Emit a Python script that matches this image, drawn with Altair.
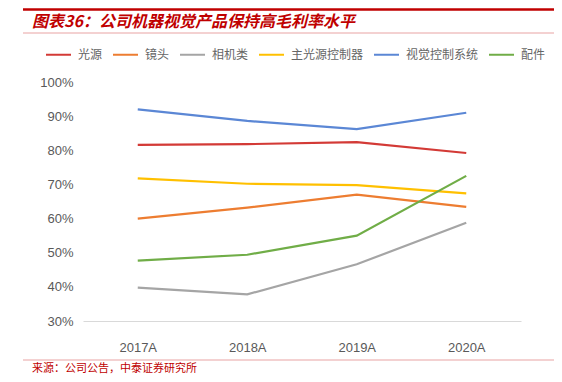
import altair as alt
import pandas as pd

years = ["2017A", "2018A", "2019A", "2020A"]
series_names = ["光源", "镜头", "相机类", "主光源控制器", "视觉控制系统", "配件"]
s_light = [0.816, 0.818, 0.824, 0.792]
s_lens = [0.600, 0.632, 0.670, 0.634]
s_camera = [0.398, 0.378, 0.466, 0.588]
s_controller = [0.718, 0.702, 0.698, 0.674]
s_system = [0.920, 0.886, 0.862, 0.910]
s_parts = [0.477, 0.494, 0.550, 0.725]
colors = ["#D33A36", "#ED7D31", "#A5A5A5", "#FFC000", "#5B87D5", "#70AD47"]

title_text = "图表36：公司机器视觉产品保持高毛利率水平"
source_text = "来源：公司公告，中泰证券研究所"

rows = []
for name, vals in zip(series_names, [s_light, s_lens, s_camera, s_controller, s_system, s_parts]):
    for y, v in zip(years, vals):
        rows.append({"year": y, "series": name, "value": v})
df = pd.DataFrame(rows)

FONT = "Noto Sans CJK SC"
NUM_FONT = "Liberation Sans"

lines = alt.Chart(df).mark_line(strokeWidth=2.2).encode(
    x=alt.X("year:N", sort=years, scale=alt.Scale(type="point", padding=0.5),
            axis=alt.Axis(title=None, labelAngle=0, ticks=False, tickSize=0,
                          domainColor="#D9D9D9", domainWidth=1.2, labelPadding=20,
                          labelFontSize=13, labelColor="#595959", labelFont=NUM_FONT,
                          grid=False)),
    y=alt.Y("value:Q", scale=alt.Scale(domain=[0.3, 1.0], nice=False, zero=False),
            axis=alt.Axis(title=None, format=".0%", values=[0.3, 0.4, 0.5, 0.6, 0.7, 0.8, 0.9, 1.0],
                          ticks=False, domain=False, grid=False, labelPadding=10,
                          labelFontSize=13, labelColor="#595959", labelFont=NUM_FONT)),
    color=alt.Color("series:N", sort=series_names,
                    scale=alt.Scale(domain=series_names, range=colors),
                    legend=alt.Legend(title=None, orient="none", direction="horizontal",
                                      legendX=-38, legendY=-41, symbolType="stroke",
                                      symbolSize=625, symbolStrokeWidth=2,
                                      labelFont=FONT, labelFontSize=12, labelColor="#666666",
                                      labelOffset=6, columnPadding=6, symbolOffset=0)),
    order=alt.Order("year:N"),
)

one = pd.DataFrame({"a": [0]})

top_rule = alt.Chart(one).mark_rule(color="#C00000", strokeWidth=2.5).encode(
    x=alt.value(-60), x2=alt.value(480), y=alt.value(-72.5))
title_rule = alt.Chart(one).mark_rule(color="#E8A3A3", strokeWidth=1).encode(
    x=alt.value(-60), x2=alt.value(480), y=alt.value(-49))
bottom_rule = alt.Chart(one).mark_rule(color="#E8A3A3", strokeWidth=1).encode(
    x=alt.value(-60), x2=alt.value(480), y=alt.value(278))

title = alt.Chart(pd.DataFrame({"t": [title_text]})).mark_text(
    align="left", baseline="middle", font=FONT, fontSize=16, fontWeight="bold",
    fontStyle="italic", color="#C00000").encode(
    x=alt.value(-51), y=alt.value(-60), text="t:N")
source = alt.Chart(pd.DataFrame({"t": [source_text]})).mark_text(
    align="left", baseline="alphabetic", font=FONT, fontSize=11,
    color="#C00000").encode(
    x=alt.value(-51), y=alt.value(290), text="t:N")

chart = alt.layer(lines, top_rule, title_rule, bottom_rule, title, source).properties(
    width=438, height=239,
    autosize=alt.AutoSizeParams(type="none"),
    padding={"left": 75, "top": 74, "right": 33, "bottom": 53},
    background="white",
).configure_view(stroke=None)

chart.save("out.html", embed_options={"renderer": "svg", "actions": False})
